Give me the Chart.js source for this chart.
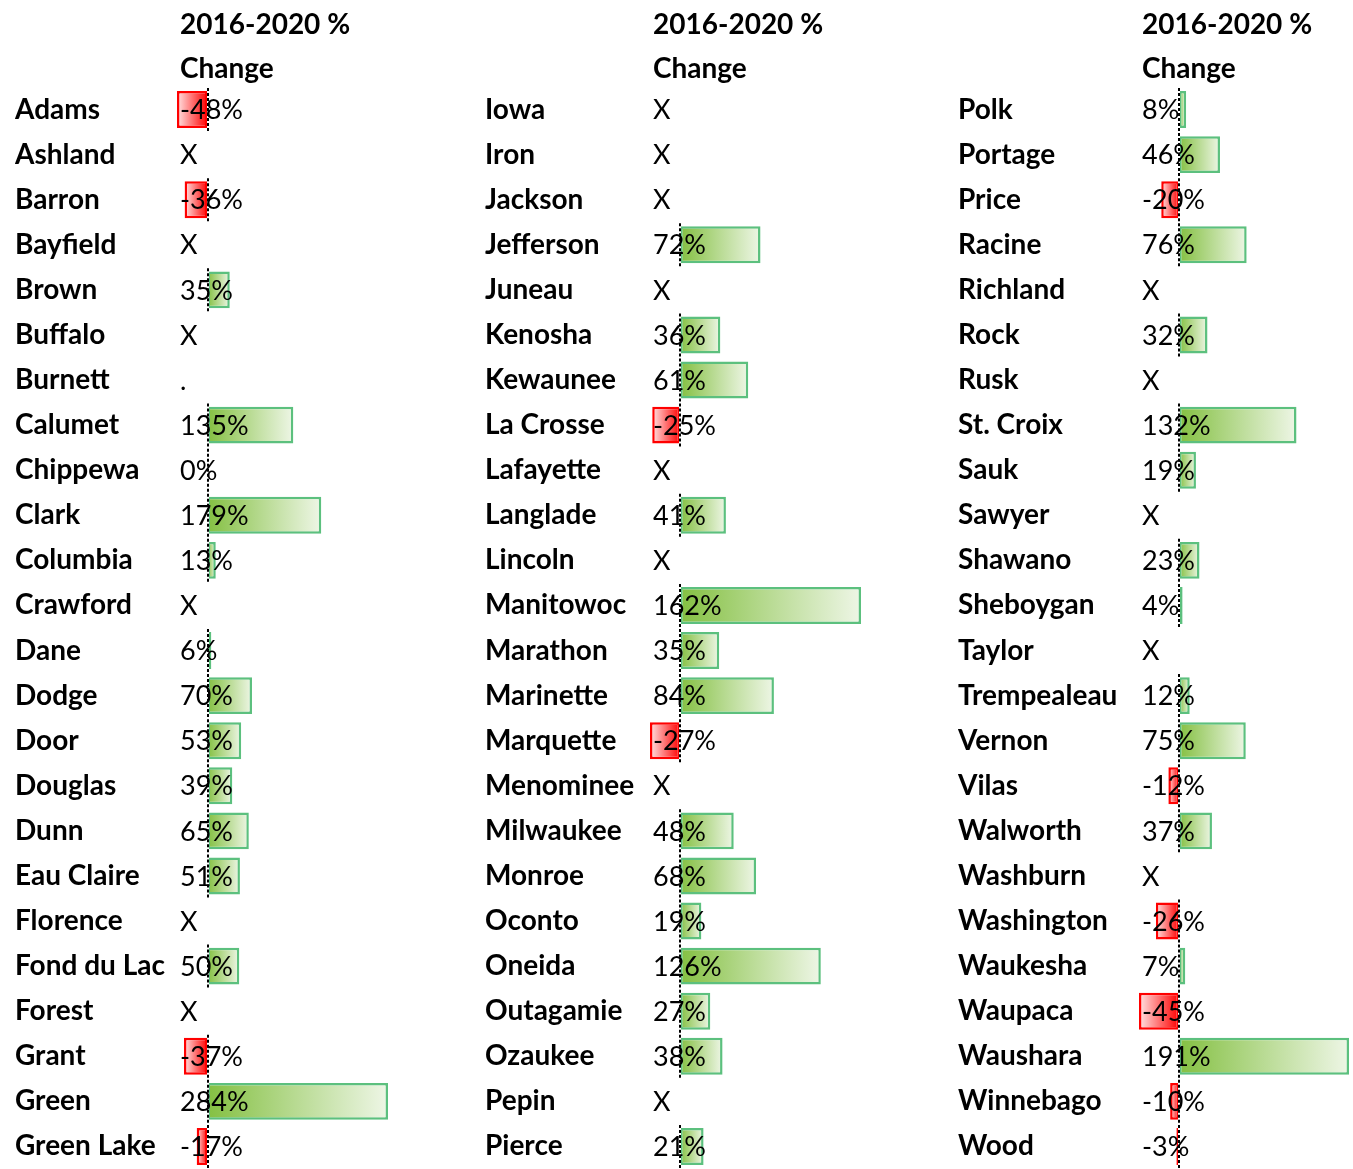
<!doctype html>
<html>
<head>
<meta charset="utf-8" />
<title>2016-2020 % Change</title>
<script src="https://cdn.jsdelivr.net/npm/chart.js@4.4.0/dist/chart.umd.min.js"></script>
<style>
  body { margin: 0; background: #fff; }
  .col { position: absolute; top: 0; height: 1169px; }
</style>
</head>
<body>
<div class="col" style="left:0px;width:392px"><canvas id="chart1"></canvas></div>
<div class="col" style="left:470px;width:395px"><canvas id="chart2"></canvas></div>
<div class="col" style="left:943px;width:410px"><canvas id="chart3"></canvas></div>
<script>
// county names and 2016-2020 % change, null = no value
const counties1 = ["Adams", "Ashland", "Barron", "Bayfield", "Brown", "Buffalo", "Burnett", "Calumet",
  "Chippewa", "Clark", "Columbia", "Crawford", "Dane", "Dodge", "Door", "Douglas", "Dunn", "Eau Claire",
  "Florence", "Fond du Lac", "Forest", "Grant", "Green", "Green Lake"];
const change1 = [-48, null, -36, null, 35, null, null, 135, 0, 179, 13, null, 6, 70, 53, 39, 65, 51,
  null, 50, null, -37, 284, -17];

const counties2 = ["Iowa", "Iron", "Jackson", "Jefferson", "Juneau", "Kenosha", "Kewaunee", "La Crosse",
  "Lafayette", "Langlade", "Lincoln", "Manitowoc", "Marathon", "Marinette", "Marquette", "Menominee",
  "Milwaukee", "Monroe", "Oconto", "Oneida", "Outagamie", "Ozaukee", "Pepin", "Pierce"];
const change2 = [null, null, null, 72, null, 36, 61, -25, null, 41, null, 162, 35, 84, -27, null,
  48, 68, 19, 126, 27, 38, null, 21];

const counties3 = ["Polk", "Portage", "Price", "Racine", "Richland", "Rock", "Rusk", "St. Croix", "Sauk",
  "Sawyer", "Shawano", "Sheboygan", "Taylor", "Trempealeau", "Vernon", "Vilas", "Walworth", "Washburn",
  "Washington", "Waukesha", "Waupaca", "Waushara", "Winnebago", "Wood"];
const change3 = [8, 46, -20, 76, null, 32, null, 132, 19, null, 23, 4, null, 12, 75, -12, 37, null,
  -26, 7, -45, 191, -10, -3];

const headerLines = ["2016-2020 %", "Change"];
const noDataMark = { Burnett: "." };

const FONT = "Lato, 'Open Sans', sans-serif";

function barFill(c) {
  const chart = c.chart;
  const v = c.raw;
  if (!chart.chartArea || v === null || v === undefined) return "rgba(0,0,0,0)";
  const xs = chart.scales.x;
  const x0 = xs.getPixelForValue(0);
  const x1 = xs.getPixelForValue(v);
  if (x0 === x1) return "rgba(0,0,0,0)";
  const g = chart.ctx.createLinearGradient(x0, 0, x1, 0);
  if (v >= 0) {
    g.addColorStop(0, "rgb(132,192,66)");
    g.addColorStop(1, "rgb(238,246,230)");
  } else {
    g.addColorStop(0, "rgb(255,0,0)");
    g.addColorStop(1, "rgb(255,228,228)");
  }
  return g;
}

const cellText = {
  id: "cellText",
  afterDatasetsDraw(chart) {
    const { ctx, chartArea, scales } = chart;
    const vals = chart.data.datasets[0].data;
    const names = chart.data.labels;
    const rowH = (chartArea.bottom - chartArea.top) / vals.length;
    const x0 = Math.round(scales.x.getPixelForValue(0));
    const tx = chartArea.left + 3;
    ctx.save();
    // dashed zero axis in each filled cell
    vals.forEach((v, i) => {
      if (v === null) return;
      const cy = scales.y.getPixelForValue(i);
      ctx.lineWidth = 2;
      ctx.strokeStyle = "#fff";
      ctx.setLineDash([]);
      ctx.beginPath();
      ctx.moveTo(x0, cy - rowH / 2 + 1);
      ctx.lineTo(x0, cy + rowH / 2 - 1);
      ctx.stroke();
      ctx.strokeStyle = "#000";
      ctx.setLineDash([3, 2]);
      ctx.stroke();
    });
    ctx.setLineDash([]);
    // cell values
    ctx.fillStyle = "#000";
    ctx.textAlign = "left";
    ctx.textBaseline = "middle";
    ctx.font = "400 27px " + FONT;
    vals.forEach((v, i) => {
      const cy = scales.y.getPixelForValue(i);
      const txt = v === null ? (noDataMark[names[i]] || "X") : v + "%";
      ctx.fillText(txt, tx, cy + 1);
    });
    // header
    ctx.font = "bold 28px " + FONT;
    ctx.fillText(headerLines[0], tx, 25);
    ctx.fillText(headerLines[1], tx, 69);
    ctx.restore();
  }
};

function makeChart(id, names, values, colLeft, nameX, cellLeft, cellRight, width) {
  const lo = Math.min(...values.filter(v => v !== null));
  const hi = Math.max(...values.filter(v => v !== null));
  return new Chart(document.getElementById(id), {
    type: "bar",
    data: {
      labels: names,
      datasets: [{
        data: values,
        backgroundColor: barFill,
        borderColor: c => (c.raw !== null && c.raw < 0 ? "rgb(255,0,0)" : "rgb(92,192,126)"),
        borderWidth: c => (c.raw === 0 ? 0 : 2.5),
        borderSkipped: false,
        categoryPercentage: 1,
        barPercentage: 0.82
      }]
    },
    options: {
      indexAxis: "y",
      responsive: true,
      maintainAspectRatio: false,
      animation: false,
      layout: { padding: { top: 87, bottom: 0, left: nameX - colLeft, right: width - (cellRight - colLeft) } },
      plugins: { legend: { display: false }, tooltip: { enabled: false } },
      scales: {
        x: { display: false, min: lo, max: hi },
        y: {
          grid: { display: false },
          border: { display: false },
          afterFit: s => {
            s.width = cellLeft - nameX;
            s.paddingTop = 0;
            s.paddingBottom = 0;
          },
          ticks: {
            autoSkip: false,
            crossAlign: "far",
            padding: 0,
            color: "#000",
            font: { family: FONT, size: 28, weight: "bold" }
          }
        }
      }
    },
    plugins: [cellText]
  });
}

makeChart("chart1", counties1, change1, 0, 15, 177, 388, 392);
makeChart("chart2", counties2, change2, 470, 485, 650, 861, 395);
makeChart("chart3", counties3, change3, 943, 958, 1139, 1349, 410);
</script>
</body>
</html>
